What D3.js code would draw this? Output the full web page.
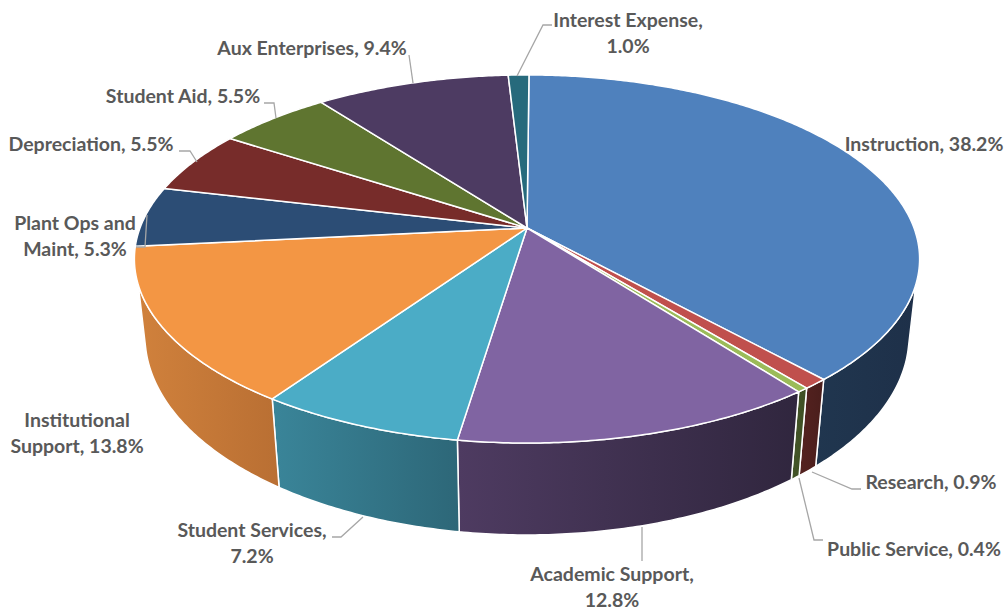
<!DOCTYPE html>
<html>
<head>
<meta charset="utf-8">
<script src="https://cdn.jsdelivr.net/npm/d3@7"></script>
<style>
  html, body { margin: 0; padding: 0; background: #fff; }
  svg { display: block; }
  text { font-family: Lato, "Open Sans", sans-serif; font-weight: 700; font-size: 19.5px; fill: #595959; }
</style>
</head>
<body>
<div id="chart"></div>
<script>
const categories = ["Instruction", "Research", "Public Service", "Academic Support", "Student Services",
  "Institutional Support", "Plant Ops and Maint", "Depreciation", "Student Aid", "Aux Enterprises", "Interest Expense"];
const shares = [38.2, 0.9, 0.4, 12.8, 7.2, 13.8, 5.3, 5.5, 5.5, 9.4, 1.0];
const topColors = ["#4f81bd", "#c0504d", "#9bbb59", "#8064a2", "#4bacc6", "#f39644",
  "#2c4d75", "#772c2a", "#5f7530", "#4d3b62", "#276a7c"];
// side wall shading, left to right
const wallFrom = ["#20364f", "#552220", "#44562a", "#4e3b61", "#3a8599", "#d0813c",
  "#2c4d75", "#772c2a", "#5f7530", "#4d3b62", "#276a7c"];
const wallTo = ["#1e3049", "#4a1e1c", "#3e4e22", "#30263e", "#2d6778", "#b96f33",
  "#2c4d75", "#772c2a", "#5f7530", "#4d3b62", "#276a7c"];

// label lines, one entry per category
const labelLines = [
  ["Instruction, 38.2%"], ["Research, 0.9%"], ["Public Service, 0.4%"], ["Academic Support,", "12.8%"],
  ["Student Services,", "7.2%"], ["Institutional", "Support, 13.8%"], ["Plant Ops and", "Maint, 5.3%"],
  ["Depreciation, 5.5%"], ["Student Aid, 5.5%"], ["Aux Enterprises, 9.4%"], ["Interest Expense,", "1.0%"],
];

const width = 1006;
const height = 609;

// layout of the labels, same order as categories
const labelPos = [
  { x: 924, y: 151 }, { x: 931, y: 489 }, { x: 914, y: 556 }, { x: 612, y: 581 },
  { x: 252, y: 537 }, { x: 77, y: 427 }, { x: 75, y: 230 },
  { x: 91, y: 151 }, { x: 183, y: 103 }, { x: 312, y: 55 }, { x: 628, y: 27 },
];
const leaders = [
  null,
  [[812, 472], [852, 489], [861, 489]],
  [[799, 478], [814, 540], [823, 540]],
  [[642, 527], [642, 561]],
  [[363, 517], [341, 537], [332, 537]],
  null,
  [[147, 215], [145, 247], [136, 247]],
  [[197, 162], [190, 151], [179, 151]],
  [[276, 118], [274, 103], [264, 103]],
  [[413, 83], [409, 55]],
  [[517, 76], [543, 25], [552, 25]],
];

// perspective of the tilted disc: apex of the pie and the foreshortening
const apex = { x: 527, y: 228 };
const radiusX = 387;
const radiusY = 178.8;
const tilt = 0.1684;
const firstAngle = 0.006;
// bottom disc relative to the top one
const lowerScaleX = 0.973;
const lowerScaleY = 1.08;
const lowerShiftY = 56.5;
// visible part of the rim, radians clockwise from 12 o'clock
const rimTop = [107.6, 252.4].map((d) => (d * Math.PI) / 180);
const rimBottom = [103, 257].map((d) => (d * Math.PI) / 180);

function project(angle) {
  const px = Math.sin(angle);
  const py = -Math.cos(angle);
  const w = 1 - tilt * py;
  return [apex.x + (radiusX * px) / w, apex.y + (radiusY * py) / w];
}

function projectLower(angle) {
  const [x, y] = project(angle);
  return [apex.x + (x - apex.x) * lowerScaleX, y * lowerScaleY + lowerShiftY];
}

function arcPoints(start, end, fn) {
  const steps = Math.max(2, Math.ceil(Math.abs(end - start) / 0.01));
  return d3.range(steps + 1).map((i) => fn(start + ((end - start) * i) / steps));
}

const slices = d3.pie().sort(null).value((d) => d)
  .startAngle(firstAngle).endAngle(firstAngle + Math.PI * 2)(shares);
const line = d3.line();

const svg = d3.select("#chart").append("svg")
  .attr("width", width)
  .attr("height", height)
  .attr("viewBox", `0 0 ${width} ${height}`);

const defs = svg.append("defs");
const walls = svg.append("g");
const tops = svg.append("g");

slices.forEach((slice, i) => {
  const start = slice.startAngle;
  const end = slice.endAngle;
  const a0 = Math.max(start, rimTop[0]);
  const a1 = Math.min(end, rimTop[1]);
  if (a1 > a0) {
    const b0 = start <= rimTop[0] ? rimBottom[0] : a0;
    const b1 = end >= rimTop[1] ? rimBottom[1] : a1;
    const grad = defs.append("linearGradient").attr("id", `wall${i}`);
    grad.append("stop").attr("offset", "0%").attr("stop-color", wallFrom[i]);
    grad.append("stop").attr("offset", "100%").attr("stop-color", wallTo[i]);
    const pts = arcPoints(a0, a1, project).concat(arcPoints(b1, b0, projectLower));
    walls.append("path")
      .attr("d", line(pts) + "Z")
      .attr("fill", `url(#wall${i})`)
      .attr("stroke", "#fff")
      .attr("stroke-width", 1.5)
      .attr("stroke-linejoin", "round");
  }
});

slices.forEach((slice, i) => {
  const pts = [[apex.x, apex.y]].concat(arcPoints(slice.startAngle, slice.endAngle, project));
  tops.append("path")
    .attr("d", line(pts) + "Z")
    .attr("fill", topColors[i])
    .attr("stroke", "#fff")
    .attr("stroke-width", 1.5)
    .attr("stroke-linejoin", "round");
});

svg.append("g").selectAll("path")
  .data(leaders.filter(Boolean))
  .join("path")
  .attr("d", (d) => line(d))
  .attr("fill", "none")
  .attr("stroke", "#a6a6a6")
  .attr("stroke-width", 1.3);

const labels = svg.append("g").selectAll("text")
  .data(categories)
  .join("text")
  .attr("text-anchor", "middle")
  .attr("x", (d, i) => labelPos[i].x)
  .attr("y", (d, i) => labelPos[i].y);

labels.selectAll("tspan")
  .data((d, i) => labelLines[i].map((t) => ({ t, x: labelPos[i].x })))
  .join("tspan")
  .attr("x", (d) => d.x)
  .attr("dy", (d, i) => (i ? 25.5 : 0))
  .text((d) => d.t);
</script>
</body>
</html>
